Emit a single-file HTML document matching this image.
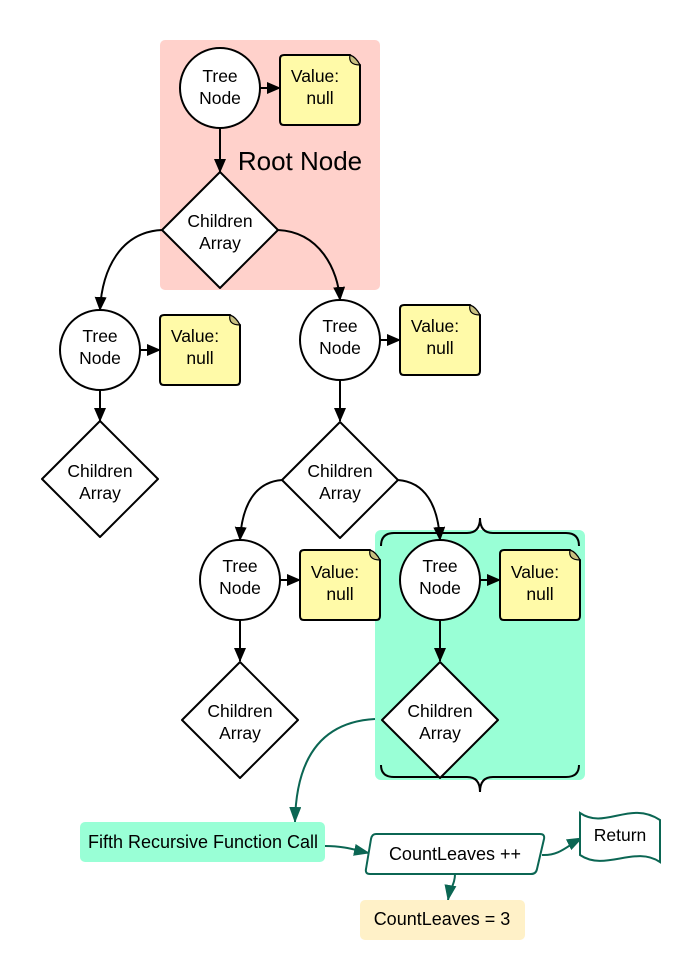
<!DOCTYPE html>
<html><head><meta charset="utf-8"><style>
html,body{margin:0;padding:0;background:#fff;}
svg{display:block;font-family:"Liberation Sans",Arial,sans-serif;}
</style></head><body>
<svg width="700" height="980" viewBox="0 0 700 980" xmlns="http://www.w3.org/2000/svg">
<defs>
<marker id="ab" markerWidth="14" markerHeight="12" refX="13" refY="6" orient="auto" markerUnits="userSpaceOnUse"><path d="M0,0 L14,6 L0,12 Z" fill="#000"/></marker>
<marker id="ag" markerWidth="16" markerHeight="12" refX="15" refY="6" orient="auto" markerUnits="userSpaceOnUse"><path d="M0,0 L16,6 L0,12 Z" fill="#0b6653"/></marker>
<g id="note">
<path d="M4,0 H70 L80,10 V66 Q80,70 76,70 H4 Q0,70 0,66 V4 Q0,0 4,0 Z" fill="#fffaa8" stroke="#000" stroke-width="2"/>
<path d="M70,0 Q68,10 80,10 Q76,2 70,0 Z" fill="#c8c080" stroke="#000" stroke-width="1.2"/>
</g>
<g id="dia"><path d="M0,-58 L58,0 L0,58 L-58,0 Z" fill="#fff" stroke="#000" stroke-width="2" stroke-linejoin="round"/></g>
</defs>
<rect x="160" y="40" width="220" height="250" rx="5" fill="#ffd1cb"/>
<rect x="375" y="530" width="210" height="250" rx="6" fill="#99ffd6"/>

<g fill="none" stroke="#000" stroke-width="2">
<path d="M381,546 Q381,533 394,533 H467 Q480,533 480,518 Q480,533 493,533 H566 Q579,533 579,546"/>
<path d="M381,765 Q381,777 394,777 H467 Q480,777 480,792 Q480,777 493,777 H566 Q579,777 579,765"/>
<line x1="220" y1="128" x2="220" y2="172" marker-end="url(#ab)"/>
<line x1="260" y1="88" x2="280" y2="88" marker-end="url(#ab)"/>
<path d="M162,230 C120,232 102,270 100,310" marker-end="url(#ab)"/>
<path d="M278,230 C320,232 338,270 340,300" marker-end="url(#ab)"/>
<line x1="140" y1="350" x2="160" y2="350" marker-end="url(#ab)"/>
<line x1="100" y1="390" x2="100" y2="421" marker-end="url(#ab)"/>
<line x1="380" y1="340" x2="400" y2="340" marker-end="url(#ab)"/>
<line x1="340" y1="380" x2="340" y2="421" marker-end="url(#ab)"/>
<path d="M282,480 C255,482 242,505 240,540" marker-end="url(#ab)"/>
<path d="M398,480 C425,482 438,505 440,540" marker-end="url(#ab)"/>
<line x1="280" y1="580" x2="300" y2="580" marker-end="url(#ab)"/>
<line x1="240" y1="620" x2="240" y2="661" marker-end="url(#ab)"/>
<line x1="480" y1="580" x2="500" y2="580" marker-end="url(#ab)"/>
<line x1="440" y1="620" x2="440" y2="661" marker-end="url(#ab)"/>
</g>
<g fill="none" stroke="#0b6653" stroke-width="2">
<path d="M375,719 C320,722 296,760 295,822" marker-end="url(#ag)"/>
<path d="M325,846 C345,846 355,850 369,853" marker-end="url(#ag)"/>
<path d="M542,855 C560,856 568,845 582,838" marker-end="url(#ag)"/>
<path d="M455,874 C455,884 450,888 448,900" marker-end="url(#ag)"/>
</g>

<g fill="#fff" stroke="#000" stroke-width="2">
<circle cx="220" cy="88" r="40"/>
<circle cx="100" cy="350" r="40"/>
<circle cx="340" cy="340" r="40"/>
<circle cx="240" cy="580" r="40"/>
<circle cx="440" cy="580" r="40"/>
</g>
<use href="#note" x="280" y="55"/>
<use href="#note" x="160" y="315"/>
<use href="#note" x="400" y="305"/>
<use href="#note" x="300" y="550"/>
<use href="#note" x="500" y="550"/>
<use href="#dia" x="220" y="230"/>
<use href="#dia" x="100" y="479"/>
<use href="#dia" x="340" y="480"/>
<use href="#dia" x="240" y="720"/>
<use href="#dia" x="440" y="720"/>

<g font-size="17.5" text-anchor="middle" fill="#000">
<text x="220" y="82">Tree</text><text x="220" y="104">Node</text>
<text x="100" y="342">Tree</text><text x="100" y="364">Node</text>
<text x="340" y="332">Tree</text><text x="340" y="354">Node</text>
<text x="240" y="572">Tree</text><text x="240" y="594">Node</text>
<text x="440" y="572">Tree</text><text x="440" y="594">Node</text>
<text x="220" y="227">Children</text><text x="220" y="249">Array</text>
<text x="100" y="477">Children</text><text x="100" y="499">Array</text>
<text x="340" y="477">Children</text><text x="340" y="499">Array</text>
<text x="240" y="717">Children</text><text x="240" y="739">Array</text>
<text x="440" y="717">Children</text><text x="440" y="739">Array</text>
<text x="315" y="82">Value:</text><text x="320" y="104">null</text>
<text x="195" y="342">Value:</text><text x="200" y="364">null</text>
<text x="435" y="332">Value:</text><text x="440" y="354">null</text>
<text x="335" y="578">Value:</text><text x="340" y="600">null</text>
<text x="535" y="578">Value:</text><text x="540" y="600">null</text>
</g>
<text x="300" y="170" font-size="26" text-anchor="middle">Root Node</text>

<rect x="80" y="822" width="245" height="40" rx="5" fill="#99ffd6"/>
<text x="203" y="848" font-size="18" text-anchor="middle">Fifth Recursive Function Call</text>
<path d="M376,834 H540 Q545,834 544,839 L537,869 Q536,874 531,874 H370 Q365,874 366,869 L371,839 Q372,834 376,834 Z" fill="#fff" stroke="#0b6653" stroke-width="2"/>
<text x="455" y="860" font-size="18" text-anchor="middle">CountLeaves ++</text>
<path d="M580,813 C605,830 630,800 660,820 V862 C635,845 605,872 580,855 Z" fill="#fff" stroke="#0b6653" stroke-width="2"/>
<text x="620" y="841" font-size="17.5" text-anchor="middle">Return</text>
<rect x="360" y="900" width="165" height="40" rx="5" fill="#fff1c8"/>
<text x="442" y="925" font-size="18" text-anchor="middle">CountLeaves = 3</text>
</svg>
</body></html>
